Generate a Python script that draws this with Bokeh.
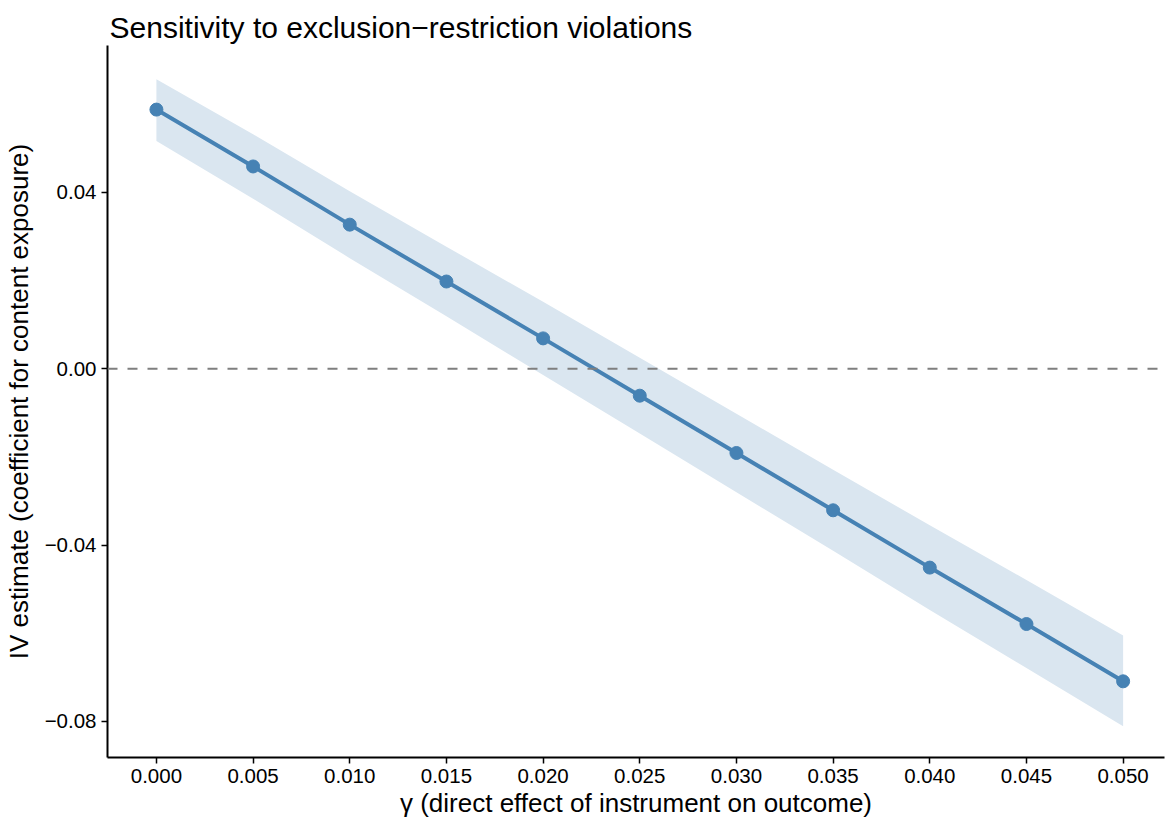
from bokeh.plotting import figure
from bokeh.models import Range1d, FixedTicker, Span, ColumnDataSource
from bokeh.embed import file_html
from bokeh.resources import INLINE

# ---- data ----
gamma = [0.000, 0.005, 0.010, 0.015, 0.020, 0.025, 0.030, 0.035, 0.040, 0.045, 0.050]
estimate = [0.0588, 0.0459, 0.0327, 0.0198, 0.0069, -0.0061, -0.0191, -0.0321, -0.0451, -0.0579, -0.0709]
lower = [0.0517, 0.0386, 0.0251, 0.0119, -0.0014, -0.0147, -0.0280, -0.0413, -0.0547, -0.0679, -0.0811]
upper = [0.0657, 0.0532, 0.0403, 0.0277, 0.0152, 0.0025, -0.0102, -0.0229, -0.0355, -0.0479, -0.0605]

x_ticks = [0.000, 0.005, 0.010, 0.015, 0.020, 0.025, 0.030, 0.035, 0.040, 0.045, 0.050]
x_tick_labels = ["0.000", "0.005", "0.010", "0.015", "0.020", "0.025", "0.030", "0.035", "0.040", "0.045", "0.050"]
y_ticks = [-0.08, -0.04, 0.00, 0.04]
y_tick_labels = ["\u22120.08", "\u22120.04", "0.00", "0.04"]

title_text = "Sensitivity to exclusion\u2212restriction violations"
x_title = "\u03b3 (direct effect of instrument on outcome)"
y_title = "IV estimate (coefficient for content exposure)"

FONT = "Liberation Sans"
BLUE = "#4682B4"

src = ColumnDataSource(dict(x=gamma, y=estimate, lo=lower, hi=upper))

p = figure(width=1167, height=824, output_backend="svg", toolbar_location=None,
           x_range=Range1d(-0.00253, 0.05214), y_range=Range1d(-0.08818, 0.07334),
           min_border_left=106, min_border_right=3, min_border_top=45, min_border_bottom=67,
           title=title_text)

p.outline_line_color = None
p.xgrid.visible = False
p.ygrid.visible = False
p.background_fill_color = "white"
p.border_fill_color = "white"

p.title.text_font = FONT
p.title.text_font_size = "30px"
p.title.text_font_style = "normal"
p.title.text_color = "black"
p.title.align = "left"
p.title.offset = 2
p.title.standoff = 4

p.varea(x="x", y1="lo", y2="hi", source=src, fill_color="#DAE6F0", fill_alpha=1.0)
p.add_layout(Span(location=0, dimension="width", line_color="#7f7f7f",
                  line_width=2, line_dash="10 10"))
p.line(x="x", y="y", source=src, line_color=BLUE, line_width=4)
p.scatter(x="x", y="y", source=src, size=13, fill_color=BLUE, line_color=BLUE)

for ax in (p.xaxis[0], p.yaxis[0]):
    ax.axis_line_color = "black"
    ax.axis_line_width = 2
    ax.major_tick_line_color = "black"
    ax.major_tick_line_width = 1.5
    ax.major_tick_out = 6
    ax.major_tick_in = 0
    ax.minor_tick_line_color = None
    ax.major_label_text_font = FONT
    ax.major_label_text_font_size = "20.5px"
    ax.major_label_text_color = "black"
    ax.axis_label_text_font = FONT
    ax.axis_label_text_font_size = "26px"
    ax.axis_label_text_font_style = "normal"
    ax.axis_label_text_color = "black"

p.xaxis[0].ticker = FixedTicker(ticks=x_ticks)
p.xaxis[0].major_label_overrides = {t: l for t, l in zip(x_ticks, x_tick_labels)}
p.yaxis[0].ticker = FixedTicker(ticks=y_ticks)
p.yaxis[0].major_label_overrides = {t: l for t, l in zip(y_ticks, y_tick_labels)}
p.xaxis[0].axis_label = x_title
p.yaxis[0].axis_label = y_title
p.xaxis[0].major_label_standoff = 5
p.yaxis[0].major_label_standoff = 5
p.xaxis[0].axis_label_standoff = 2
p.yaxis[0].axis_label_standoff = 8

open("out.html", "w").write(file_html(p, INLINE))
